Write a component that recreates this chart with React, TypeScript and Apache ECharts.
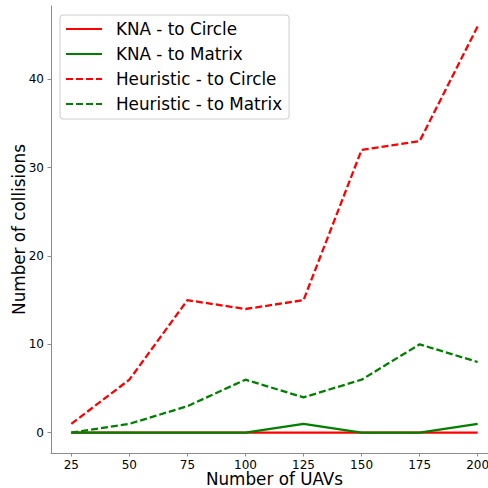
import React, { useEffect, useRef } from "react";
import * as echarts from "echarts";

const uavCounts = [25, 50, 75, 100, 125, 150, 175, 200];
const knaCircle = [0, 0, 0, 0, 0, 0, 0, 0];
const knaMatrix = [0, 0, 0, 0, 1, 0, 0, 1];
const heuristicCircle = [1, 6, 15, 14, 15, 32, 33, 46];
const heuristicMatrix = [0, 1, 3, 6, 4, 6, 10, 8];
const xTicks = [25, 50, 75, 100, 125, 150, 175, 200];
const yTicks = [0, 10, 20, 30, 40];

const pair = (vals: number[]) => uavCounts.map((x, i) => [x, vals[i]]);

export default function App() {
  const ref = useRef<HTMLDivElement>(null);
  useEffect(() => {
    const chart = echarts.init(ref.current!, null, { renderer: "svg" });
    const font = "DejaVu Sans";
    const axisColor = "#8c8c8c";
    const mk = (name: string, data: number[], color: string, dashed: boolean) => ({
      name,
      type: "line",
      data: pair(data),
      symbol: "none",
      lineStyle: { color, width: 2.3, type: dashed ? [7, 3] : "solid" },
      itemStyle: { color },
    });
    chart.setOption({
      animation: false,
      textStyle: { fontFamily: font },
      grid: { left: 51, top: 6, width: 447, height: 447, containLabel: false, outerBoundsMode: "none" },
      legend: {
        orient: "vertical",
        left: 60,
        top: 15,
        padding: [5, 7, 6, 5],
        itemWidth: 36,
        itemHeight: 18,
        itemGap: 7,
        borderColor: "#cccccc",
        borderWidth: 1,
        borderRadius: 3,
        backgroundColor: "rgba(255,255,255,0.8)",
        itemStyle: { opacity: 0 },
        textStyle: { fontSize: 16.8, fontFamily: font, color: "#000", lineHeight: 18, padding: [0, 0, 0, 9] },
        data: ["KNA - to Circle", "KNA - to Matrix", "Heuristic - to Circle", "Heuristic - to Matrix"],
      },
      xAxis: {
        type: "value",
        min: 16.25,
        max: 208.75,
        name: "Number of UAVs",
        nameLocation: "middle",
        nameGap: 19,
        nameMoveOverlap: false,
        nameTextStyle: { fontSize: 16.8, color: "#000", fontFamily: font, lineHeight: 13, verticalAlign: "top" },
        axisLine: { show: true, onZero: false, lineStyle: { color: axisColor, width: 1 } },
        axisTick: { show: true, length: 3.5, lineStyle: { color: axisColor }, customValues: xTicks },
        axisLabel: { fontSize: 12, color: "#000", margin: 6, lineHeight: 12, customValues: xTicks, fontFamily: font },
        splitLine: { show: false },
      },
      yAxis: {
        type: "value",
        min: -2.3,
        max: 48.3,
        name: "Number of collisions",
        nameLocation: "middle",
        nameGap: 24,
        nameMoveOverlap: false,
        nameTextStyle: { fontSize: 16.8, color: "#000", fontFamily: font, lineHeight: 17 },
        axisLine: { show: true, onZero: false, lineStyle: { color: axisColor, width: 1 } },
        axisTick: { show: true, length: 3.5, lineStyle: { color: axisColor }, customValues: yTicks },
        axisLabel: { fontSize: 12, color: "#000", margin: 7, customValues: yTicks, fontFamily: font },
        splitLine: { show: false },
      },
      series: [
        mk("KNA - to Circle", knaCircle, "#ff0000", false),
        mk("KNA - to Matrix", knaMatrix, "#008000", false),
        mk("Heuristic - to Circle", heuristicCircle, "#ff0000", true),
        mk("Heuristic - to Matrix", heuristicMatrix, "#008000", true),
      ],
    });
    return () => chart.dispose();
  }, []);
  return (
    <div
      ref={ref}
      style={{ position: "fixed", left: 0, top: 0, width: 488, height: 488, background: "#fff" }}
    />
  );
}
